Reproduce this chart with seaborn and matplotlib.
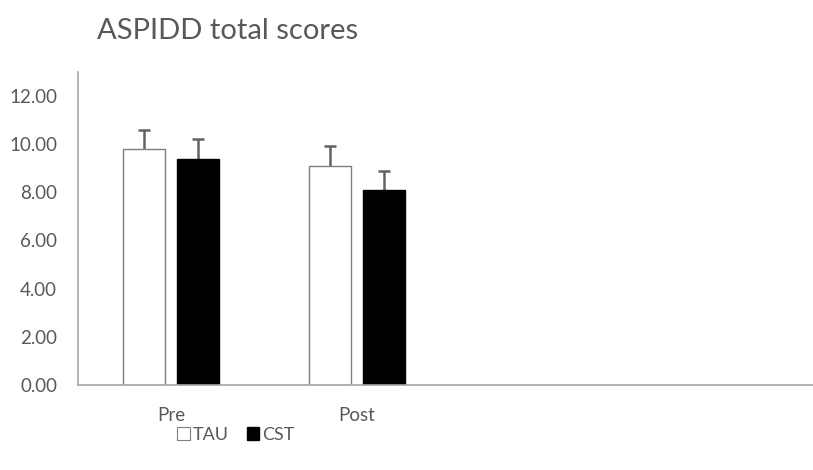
import pandas as pd
import numpy as np
import matplotlib.pyplot as plt
import seaborn as sns
from matplotlib.patches import Patch

# Data
times = ['Pre', 'Post']
groups = ['TAU', 'CST']
tau_means = [9.78, 9.11]
cst_means = [9.39, 8.08]
tau_err = [0.79, 0.80]
cst_err = [0.82, 0.80]

df = pd.DataFrame({
    'time': times * 2,
    'group': ['TAU'] * 2 + ['CST'] * 2,
    'score': tau_means + cst_means,
})
errs = {'TAU': tau_err, 'CST': cst_err}

sns.set_style('white')
plt.rcParams['font.family'] = ['Lato', 'DejaVu Sans']
txt = '#595959'

fig = plt.figure(figsize=(8.13, 4.70), dpi=100)
ax = fig.add_axes([0.096, 0.181, 0.915, 0.666])

sns.barplot(data=df, x='time', y='score', hue='group', order=times,
            hue_order=groups, palette=['white', 'black'], width=0.578,
            gap=0.21, errorbar=None, legend=False, ax=ax)

edge = {'TAU': '#7f7f7f', 'CST': 'black'}
for g, cont in zip(groups, ax.containers):
    xs, ys = [], []
    for p in cont.patches:
        p.set_edgecolor(edge[g])
        p.set_linewidth(1.0)
        p.set_zorder(2)
        xs.append(p.get_x() + p.get_width() / 2)
        ys.append(p.get_height())
    e = np.array(errs[g])
    eb = ax.errorbar(xs, ys, yerr=[np.zeros_like(e), e], fmt='none',
                     ecolor='#636363', elinewidth=1.8, capsize=4,
                     capthick=1.8, zorder=1)
    # only the plus side has a cap
    eb.lines[1][0].set_visible(False)

ax.set_xlim(-0.5, 3.5)
ax.set_ylim(0, 13)
ax.set_yticks(np.arange(0, 13, 2))
ax.set_yticklabels([f'{v:.2f}' for v in np.arange(0, 13, 2)])
ax.set_xlabel('')
ax.set_ylabel('')
ax.tick_params(axis='both', length=0, labelsize=13.5, colors=txt)
ax.tick_params(axis='x', pad=16)
ax.tick_params(axis='y', pad=15)
for s in ['top', 'right']:
    ax.spines[s].set_visible(False)
for s in ['left', 'bottom']:
    ax.spines[s].set_color('#a6a6a6')
    ax.spines[s].set_linewidth(1.2)

fig.text(0.119, 0.935, 'ASPIDD total scores', fontsize=21, color=txt,
         va='center', ha='left')

handles = [Patch(facecolor='white', edgecolor='#7f7f7f', linewidth=0.8),
           Patch(facecolor='black', edgecolor='black')]
fig.legend(handles, groups, loc='center left', bbox_to_anchor=(0.198, 0.075),
           ncol=2, frameon=False, fontsize=13, labelcolor=txt,
           handlelength=0.7, handleheight=0.7, handletextpad=0.15,
           columnspacing=1.0)

fig.savefig('out.png', dpi=100)
